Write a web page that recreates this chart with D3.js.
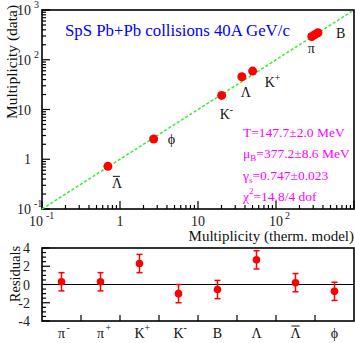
<!DOCTYPE html>
<html><head><meta charset="utf-8">
<script src="https://cdn.jsdelivr.net/npm/d3@7"></script>
<style>body{margin:0;background:#fff}svg{display:block}</style>
</head><body>
<svg id="c" width="355" height="343" font-family="'Liberation Serif','Times New Roman',serif"></svg>
<script>
// ---- data ----
const particles = ["π-","π+","K+","K-","B","Λ","Λbar","φ"];
const modelMult = [316, 288, 50.2, 20.1, 345, 36.5, 0.70, 2.70];
const dataMult  = [322, 293, 59.1, 19.2, 349, 45.6, 0.72, 2.55];
const residuals = [0.3, 0.3, 2.3, -1.0, -0.55, 2.7, 0.2, -0.75];
const residErr  = [1.0, 1.0, 1.0, 1.0, 1.0, 1.0, 1.0, 1.0];
const decadeTicks = [0.1, 1, 10, 100, 1000];
const residTicks = [-4, -2, 0, 2, 4];
const fitParams = [
  {pre:"T=147.7±2.0 MeV"},
  {pre:"μ", sub:"B", post:"=377.2±8.6 MeV"},
  {pre:"γ", sub:"s", post:"=0.747±0.023"},
  {pre:"χ", sup:"2", post:"=14.8/4 dof"}
];

const svg = d3.select("#c");
const L = 42, R = 354, T1 = 10, B1 = 209, T2 = 248, B2 = 321;
const x = d3.scaleLog().domain([0.1, 1000]).range([L, R]);
const y = d3.scaleLog().domain([0.1, 1000]).range([B1, T1]);

// top frame
svg.append("rect").attr("x", L).attr("y", T1).attr("width", R - L).attr("height", B1 - T1)
  .attr("fill", "none").attr("stroke", "#000").attr("stroke-width", 1.6);

// log ticks
const minor = [];
for (let d = 0.1; d < 1000; d *= 10) for (let k = 1; k < 10; k++) minor.push(d * k);
minor.push(1000);
const isMajor = v => Math.abs(Math.log10(v) - Math.round(Math.log10(v))) < 1e-6;
svg.append("g").selectAll("line").data(minor).join("line")
  .attr("x1", d => x(d)).attr("x2", d => x(d))
  .attr("y1", B1).attr("y2", d => B1 - (isMajor(d) ? 8 : 4))
  .attr("stroke", "#000").attr("stroke-width", 1.2);
svg.append("g").selectAll("line").data(minor).join("line")
  .attr("y1", d => y(d)).attr("y2", d => y(d))
  .attr("x1", L).attr("x2", d => L + (isMajor(d) ? 8 : 4))
  .attr("stroke", "#000").attr("stroke-width", 1.2);

function expLabel(g, v, bx, by, anchor) {
  const e = Math.round(Math.log10(v));
  const t = g.append("text").attr("font-size", 14).attr("fill", "#222");
  if (e === 0) { t.attr("x", bx).attr("y", by).attr("text-anchor", anchor).text("1"); return; }
  if (e === 1) { t.attr("x", bx).attr("y", by).attr("text-anchor", anchor).text("10"); return; }
  t.attr("x", bx).attr("y", by).attr("text-anchor", anchor).text("10");
  g.append("text").attr("font-size", 10).attr("fill", "#222")
    .attr("y", Math.max(by - 7, 8)).attr("x", anchor === "end" ? bx + 3 : bx + 9).text(String(e));
}
// y labels
const gy = svg.append("g");
decadeTicks.forEach(v => expLabel(gy, v, 31, y(v) + 5, "end"));
// x labels
const gx = svg.append("g");
decadeTicks.slice(0, 4).forEach((v, i) => {
  if (i === 0) expLabel(gx, v, x(v) + 1, 226, "end");
  else expLabel(gx, v, x(v), 226, "middle");
});

// diagonal y = x
svg.append("line").attr("x1", x(0.1)).attr("y1", y(0.1)).attr("x2", x(1000)).attr("y2", y(1000))
  .attr("stroke", "#33ee33").attr("stroke-width", 1.5).attr("stroke-dasharray", "3,2");

// points
const pts = particles.map((p, i) => ({p, m: modelMult[i], d: dataMult[i]}));
svg.append("g").selectAll("circle").data(pts).join("circle")
  .attr("cx", d => x(d.m)).attr("cy", d => y(d.d)).attr("r", 4.5).attr("fill", "#f00");

// point labels
const lab = {"π-": null, "π+": ["π", -4, 16], "K+": ["K", 12, 16, "+"], "K-": ["K", -2, 24, "-"], "B": ["B", 18, 5],
  "Λ": ["Λ", -1, 20], "Λbar": ["Λ", 4, 22, null, true], "φ": ["ϕ", 14, 5]};
const gl = svg.append("g");
pts.forEach(d => {
  const l = lab[d.p]; if (!l) return;
  const px = x(d.m) + l[1], py = y(d.d) + l[2];
  gl.append("text").attr("x", px).attr("y", py).attr("font-size", 14).attr("fill", "#111").text(l[0]);
  if (l[3]) gl.append("text").attr("x", px + 10).attr("y", py - 6).attr("font-size", 10).attr("fill", "#111").text(l[3]);
  if (l[4]) gl.append("line").attr("x1", px + 1).attr("x2", px + 8).attr("y1", py - 12).attr("y2", py - 12).attr("stroke", "#111").attr("stroke-width", 1);
});

// title and params
svg.append("text").attr("x", 65).attr("y", 36).attr("font-size", 16.8).attr("fill", "#0000ff")
  .text("SpS Pb+Pb collisions 40A GeV/c");
const gp = svg.append("g").attr("fill", "#ff00ff");
fitParams.forEach((f, i) => {
  const t = gp.append("text").attr("x", 243).attr("y", 137 + i * 21.3).attr("font-size", 13.5);
  t.append("tspan").text(f.pre);
  if (f.sub) t.append("tspan").attr("font-size", 9).attr("dy", 3).text(f.sub);
  if (f.sup) t.append("tspan").attr("font-size", 9).attr("dy", -7).text(f.sup);
  if (f.post) t.append("tspan").attr("dy", f.sub ? -3 : (f.sup ? 7 : 0)).text(f.post);
});

// axis titles
svg.append("text").attr("transform", "translate(17,62) rotate(-90)").attr("text-anchor", "middle")
  .attr("font-size", 15.5).attr("fill", "#111").text("Multiplicity (data)");
svg.append("text").attr("x", R).attr("y", 241).attr("text-anchor", "end")
  .attr("font-size", 15).attr("fill", "#111").text("Multiplicity (therm. model)");

// ---- residual panel ----
const xb = d3.scaleBand().domain(particles).range([L, R]);
const yr = d3.scaleLinear().domain([-4, 4]).range([B2, T2]);
svg.append("rect").attr("x", L).attr("y", T2).attr("width", R - L).attr("height", B2 - T2)
  .attr("fill", "none").attr("stroke", "#000").attr("stroke-width", 1.6);
svg.append("line").attr("x1", L).attr("x2", R).attr("y1", yr(0)).attr("y2", yr(0)).attr("stroke", "#000").attr("stroke-width", 1.2);
const rMinor = d3.range(-4, 4.01, 0.5);
svg.append("g").selectAll("line").data(rMinor).join("line")
  .attr("y1", d => yr(d)).attr("y2", d => yr(d)).attr("x1", L)
  .attr("x2", d => L + (Math.abs(d % 2) < 1e-6 ? 8 : 4)).attr("stroke", "#000").attr("stroke-width", 1.2);
svg.append("g").selectAll("text").data(residTicks).join("text")
  .attr("x", 30).attr("y", d => yr(d) + 5).attr("text-anchor", "end").attr("font-size", 14).attr("fill", "#222")
  .text(d => d);
svg.append("g").selectAll("line").data(particles.slice(1)).join("line")
  .attr("x1", d => xb(d)).attr("x2", d => xb(d)).attr("y1", B2).attr("y2", B2 - 6)
  .attr("stroke", "#000").attr("stroke-width", 1.2);
svg.append("text").attr("transform", "translate(20,274) rotate(-90)").attr("text-anchor", "middle")
  .attr("font-size", 14.5).attr("fill", "#111").text("Residuals");

const rp = particles.map((p, i) => ({p, r: residuals[i], e: residErr[i]}));
const ge = svg.append("g").attr("stroke", "#f00").attr("stroke-width", 1.5);
rp.forEach(d => {
  const cx = xb(d.p) + xb.bandwidth() / 2;
  ge.append("line").attr("x1", cx).attr("x2", cx).attr("y1", yr(d.r - d.e)).attr("y2", yr(d.r + d.e));
  ge.append("line").attr("x1", cx - 3).attr("x2", cx + 3).attr("y1", yr(d.r - d.e)).attr("y2", yr(d.r - d.e));
  ge.append("line").attr("x1", cx - 3).attr("x2", cx + 3).attr("y1", yr(d.r + d.e)).attr("y2", yr(d.r + d.e));
});
svg.append("g").selectAll("circle").data(rp).join("circle")
  .attr("cx", d => xb(d.p) + xb.bandwidth() / 2).attr("cy", d => yr(d.r)).attr("r", 3.8).attr("fill", "#f00");

// category labels
const catLab = {"π-": ["π", "-"], "π+": ["π", "+"], "K+": ["K", "+"], "K-": ["K", "-"], "B": ["B"], "Λ": ["Λ"], "Λbar": ["Λ", null, true], "φ": ["ϕ"]};
const gc = svg.append("g");
particles.forEach(p => {
  const c = catLab[p], cx = xb(p) + xb.bandwidth() / 2, by = 338;
  gc.append("text").attr("x", cx).attr("y", by).attr("text-anchor", "middle").attr("font-size", 14).attr("fill", "#111").text(c[0]);
  if (c[1]) gc.append("text").attr("x", cx + 5).attr("y", by - 7).attr("font-size", 10).attr("fill", "#111").text(c[1]);
  if (c[2]) gc.append("line").attr("x1", cx - 4).attr("x2", cx + 4).attr("y1", by - 12).attr("y2", by - 12).attr("stroke", "#111").attr("stroke-width", 1);
});
</script>
</body></html>
